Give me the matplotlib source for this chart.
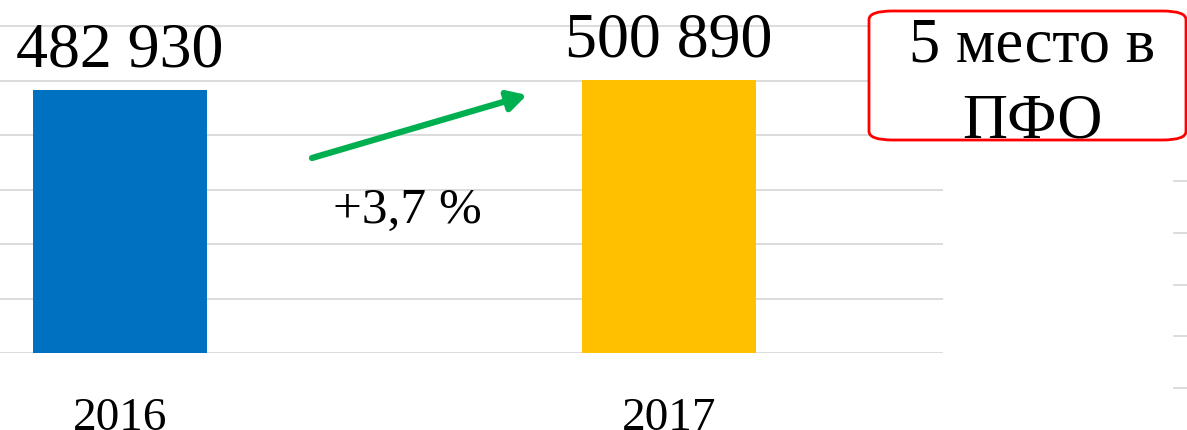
import matplotlib
matplotlib.use("Agg")
import matplotlib.pyplot as plt
from matplotlib.patches import FancyBboxPatch, FancyArrowPatch

plt.rcParams['font.family'] = ['Liberation Serif', 'DejaVu Serif']

categories = ["2016", "2017"]
values = [482930, 500890]
value_labels = ["482 930", "500 890"]
colors = ["#0070C0", "#FFC000"]
growth_label = "+3,7 %"
box_lines = ["5 место в", "ПФО"]

W, H = 1187, 431
fig = plt.figure(figsize=(W / 100, H / 100), dpi=100)

# main axes: x 0..943 px, y from 354 px (baseline) to top
ax = fig.add_axes([0, (H - 354) / H, 943 / W, 354 / H])
x = list(range(len(categories)))
ax.bar(x, values, width=0.317, color=colors, zorder=2)
ax.set_xlim(-120 / 549, (943 - 120) / 549)
ax.set_ylim(0, 354 / 54.5 * 100000)
ax.set_yticks([i * 100000 for i in range(7)])
ax.yaxis.grid(True, color="#D9D9D9", linewidth=1.3, zorder=0)
ax.set_axisbelow(True)
for s in ax.spines.values():
    s.set_visible(False)
ax.tick_params(axis='y', left=False, labelleft=False)
ax.set_xticks(x)
ax.set_xticklabels(categories, fontsize=34)
ax.tick_params(axis='x', bottom=False, pad=28)

for xi, v, lab in zip(x, values, value_labels):
    ax.annotate(lab, (xi, v), xytext=(0, 17.3), textcoords='offset points',
                ha='center', va='baseline', fontsize=46, color='black')

# growth arrow
arr = FancyArrowPatch((312 / 943, (354 - 159) / 354), (527 / 943, (354 - 96) / 354),
                      transform=ax.transAxes, arrowstyle='-|>,head_length=1.0,head_width=0.55',
                      mutation_scale=11, color="#00B050", linewidth=4.5, clip_on=False,
                      shrinkA=0, shrinkB=0, zorder=3)
ax.add_patch(arr)
ax.text(407 / 943, (354 - 223) / 354, growth_label, transform=ax.transAxes,
        ha='center', va='baseline', fontsize=37)

# red rounded box
bx0, by0, bx1, by1 = 869, 12, 1186, 141
box = FancyBboxPatch((bx0 / W, 1 - by1 / H), (bx1 - bx0) / W, (by1 - by0) / H,
                     boxstyle="round,pad=0,rounding_size=0.02", transform=fig.transFigure,
                     facecolor='white', edgecolor='#FF0000', linewidth=2, zorder=4)
fig.patches.append(box)
fig.text(1032 / W, 1 - 62 / H, box_lines[0], ha='center', va='baseline', fontsize=45, zorder=5)
fig.text(1032 / W, 1 - 138 / H, box_lines[1], ha='center', va='baseline', fontsize=45, zorder=5)

# fragment of neighbouring chart gridlines at the right edge
ax2 = fig.add_axes([1174 / W, (H - 389) / H, 20 / W, (389 - 182) / H])
ax2.set_ylim(0, 4)
ax2.set_xlim(0, 1)
ax2.set_yticks(range(5))
ax2.yaxis.grid(True, color="#D9D9D9", linewidth=1.3)
for s in ax2.spines.values():
    s.set_visible(False)
ax2.tick_params(left=False, bottom=False, labelleft=False, labelbottom=False)
ax2.patch.set_alpha(0)
for gl in ax2.get_ygridlines():
    gl.set_clip_on(False)

fig.savefig("out.png", dpi=100)
